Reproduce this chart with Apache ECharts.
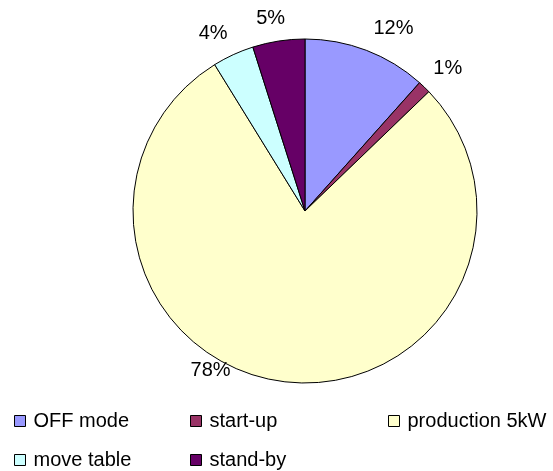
<!DOCTYPE html>
<html>
<head>
<meta charset="utf-8">
<script src="https://cdn.jsdelivr.net/npm/echarts@6/dist/echarts.min.js"></script>
<style>html,body{margin:0;padding:0;background:#fff}#c{width:553px;height:471px}</style>
</head>
<body>
<div id="c"></div>
<script>
const categories = ['OFF mode', 'start-up', 'production 5kW', 'move table', 'stand-by'];
const values = [11.6, 1.2, 78.4, 3.9, 4.9];
const colors = ['#9999FF', '#993366', '#FFFFCC', '#CCFFFF', '#660066'];

const FONT = "'Liberation Sans', Arial, sans-serif";
const labelShift = [[-6, 0], [-12, -2], [-45, -34], [9, 0], [15, 0]];

const chart = echarts.init(document.getElementById('c'), null, {renderer: 'canvas'});
const legendBase = {
  orient: 'vertical', top: 411, padding: 0, itemGap: 19,
  itemWidth: 11, itemHeight: 11, icon: 'rect',
  itemStyle: {borderColor: '#000', borderWidth: 1},
  textStyle: {fontFamily: FONT, fontSize: 20, color: '#000', lineHeight: 20, padding: [0, 0, 0, 3]}
};
chart.setOption({
  animation: false,
  backgroundColor: '#fff',
  legend: [
    Object.assign({}, legendBase, {left: 14, data: [categories[0], categories[3]]}),
    Object.assign({}, legendBase, {left: 190, data: [categories[1], categories[4]]}),
    Object.assign({}, legendBase, {left: 388, data: [categories[2]]})
  ],
  series: [{
    type: 'pie',
    center: [305, 211],
    radius: 172,
    startAngle: 90,
    clockwise: true,
    avoidLabelOverlap: false,
    itemStyle: {borderColor: '#000', borderWidth: 1},
    label: {
      show: true, position: 'outside', fontFamily: FONT, fontSize: 20, color: '#000',
      formatter: p => Math.round(p.percent) + '%'
    },
    labelLine: {show: false, length: 23, length2: 0},
    labelLayout: p => ({dx: labelShift[p.dataIndex][0], dy: labelShift[p.dataIndex][1]}),
    emphasis: {disabled: true},
    data: categories.map((n, i) => ({name: n, value: values[i], itemStyle: {color: colors[i]}}))
  }]
});
</script>
</body>
</html>
